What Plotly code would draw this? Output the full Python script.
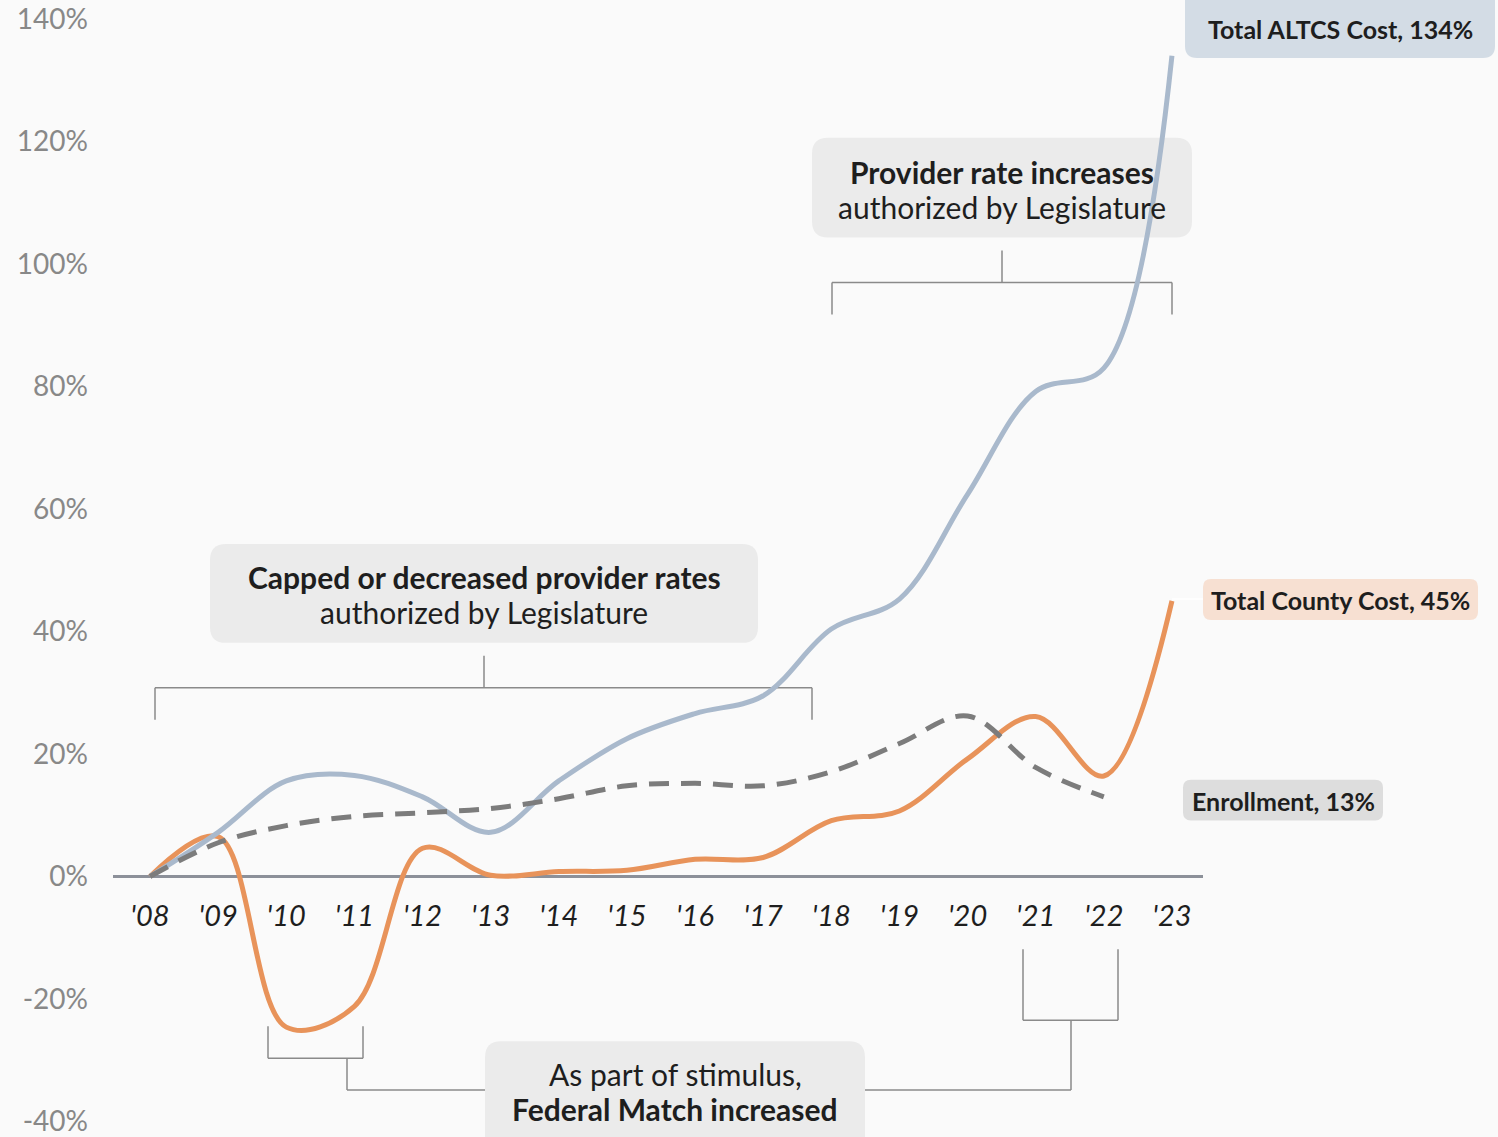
import plotly.graph_objects as go

years = list(range(2008, 2024))
year_labels = ["'08", "'09", "'10", "'11", "'12", "'13", "'14", "'15", "'16", "'17",
               "'18", "'19", "'20", "'21", "'22", "'23"]

altcs_cost = [0, 7.2, 15.6, 16.5, 13.0, 7.2, 15.6, 22.5, 26.6, 29.5, 40.4, 45.3, 62.4, 79.2, 83.0, 134.0]
county_cost = [0, 6.5, -24.6, -21.2, 4.6, 0.2, 0.8, 1.0, 2.8, 3.1, 9.1, 10.7, 19.2, 26.1, 16.4, 45.0]
enroll_years = list(range(2008, 2023))
enrollment = [0, 5.5, 8.3, 9.8, 10.4, 11.1, 12.7, 14.8, 15.2, 14.8, 17.1, 21.7, 26.2, 17.8, 13.0]

y_ticks = [-40, -20, 0, 20, 40, 60, 80, 100, 120, 140]
y_tick_labels = [f"{v}%" for v in y_ticks]

W, H = 1498, 1137
ML, MR = 113, 295
PW = W - ML - MR
PX_PER_YEAR = 68.13
PX_PER_20 = 122.7


def X(px):
    return 2008 + (px - 150) / PX_PER_YEAR


def Y(py):
    return (878 - py) * 20 / PX_PER_20


def PXp(px):
    return (px - ML) / PW


def PYp(py):
    return (H - py) / H


FONT = "Lato, 'Noto Sans', sans-serif"
DARK = "#1e1e1e"
BRACKET = "#8a8a8a"

fig = go.Figure()
fig.add_trace(go.Scatter(x=years, y=county_cost, mode="lines",
                         line=dict(color="#e8935a", width=5, shape="spline", smoothing=1.0),
                         hoverinfo="skip", showlegend=False))
fig.add_trace(go.Scatter(x=years, y=altcs_cost, mode="lines",
                         line=dict(color="#a9b9cc", width=5, shape="spline", smoothing=1.0),
                         hoverinfo="skip", showlegend=False))
fig.add_trace(go.Scatter(x=enroll_years, y=enrollment, mode="lines",
                         line=dict(color="#7c7c7c", width=5, shape="spline", smoothing=1.0,
                                   dash="20px,12px"),
                         hoverinfo="skip", showlegend=False))

shapes = []


def rbox(x0, y0, x1, y1, color, r=12):
    rx = r / PW
    ry = r / H
    a0, a1 = PXp(x0), PXp(x1)
    b0, b1 = PYp(y1), PYp(y0)  # bottom, top
    path = (f"M {a0+rx},{b0} L {a1-rx},{b0} Q {a1},{b0} {a1},{b0+ry} "
            f"L {a1},{b1-ry} Q {a1},{b1} {a1-rx},{b1} L {a0+rx},{b1} "
            f"Q {a0},{b1} {a0},{b1-ry} L {a0},{b0+ry} Q {a0},{b0} {a0+rx},{b0} Z")
    shapes.append(dict(type="path", path=path, xref="paper", yref="paper", fillcolor=color,
                       line=dict(width=0), layer="below"))


def seg(x0, y0, x1, y1, color=BRACKET):
    shapes.append(dict(type="line", xref="paper", yref="paper",
                       x0=PXp(x0), y0=PYp(y0), x1=PXp(x1), y1=PYp(y1),
                       line=dict(color=color, width=1.5), layer="below"))


# boxes
rbox(1185, -12, 1495, 58, "#d3dce5")
rbox(1203, 580, 1478, 621, "#f7e0d2", r=8)
rbox(1183, 781, 1383, 822, "#dddddd", r=8)
rbox(812, 138, 1192, 238, "#ebebeb", r=16)
rbox(210, 545, 758, 644, "#ebebeb", r=16)
rbox(485, 1043, 865, 1160, "#ebebeb", r=16)

# brackets
seg(832, 283, 1172, 283); seg(832, 283, 832, 315); seg(1172, 283, 1172, 315); seg(1002, 251, 1002, 283)
seg(155, 689, 812, 689); seg(155, 689, 155, 721); seg(812, 689, 812, 721); seg(484, 657, 484, 689)
seg(268, 1060, 363, 1060); seg(268, 1028, 268, 1060); seg(363, 1028, 363, 1060)
seg(347, 1060, 347, 1092); seg(347, 1092, 485, 1092)
seg(1023, 1022, 1118, 1022); seg(1023, 951, 1023, 1022); seg(1118, 951, 1118, 1022)
seg(1071, 1022, 1071, 1092); seg(865, 1092, 1071, 1092)
# thin connector for county label
seg(1172, 600, 1203, 600, color="#ffffff")

annotations = []


def text(px, py, t, size, bold=False):
    annotations.append(dict(x=PXp(px), y=PYp(py), xref="paper", yref="paper", text=t,
                            showarrow=False, xanchor="center", yanchor="middle",
                            font=dict(family=FONT, size=size, color=DARK,
                                      weight=700 if bold else 400)))


text(1340, 29, "Total ALTCS Cost, 134%", 25, True)
text(1340, 601, "Total County Cost, 45%", 25, True)
text(1283, 802, "Enrollment, 13%", 25, True)
text(1002, 172, "Provider rate increases", 30, True)
text(1002, 207, "authorized by Legislature", 30)
text(484, 578, "Capped or decreased provider rates", 30, True)
text(484, 613, "authorized by Legislature", 30)
text(675, 1076, "As part of stimulus,", 30)
text(675, 1111, "Federal Match increased", 30, True)

x_range = [X(ML), X(W - MR)]
y_range = [Y(H), Y(0)]
zero_pos = (0 - y_range[0]) / (y_range[1] - y_range[0])

fig.update_layout(
    width=W, height=H,
    margin=dict(l=ML, r=MR, t=0, b=0, pad=0),
    paper_bgcolor="#fafafa", plot_bgcolor="#fafafa",
    shapes=shapes, annotations=annotations,
    xaxis=dict(range=x_range, tickmode="array", tickvals=years, ticktext=year_labels,
               showgrid=False, zeroline=False, showline=False, ticks="",
               anchor="free", position=zero_pos, ticklabelstandoff=20,
               tickfont=dict(family=FONT, size=29, color=DARK, style="italic")),
    yaxis=dict(range=y_range, tickmode="array", tickvals=y_ticks, ticktext=y_tick_labels,
               showgrid=False, zeroline=True, zerolinecolor="#8c9099", zerolinewidth=2.5,
               showline=False, ticks="", ticklabelstandoff=24, ticklabeloverflow="allow",
               tickfont=dict(family=FONT, size=28, color="#888888")),
)

fig.write_html("out.html", config={"displayModeBar": False},
               post_script=("document.body.style.margin='0';"
                            "document.body.style.overflow='hidden';"
                            "document.documentElement.style.overflow='hidden';"
                            "document.body.style.background='#fafafa';"
                            "window.scrollTo(0,0);"))
